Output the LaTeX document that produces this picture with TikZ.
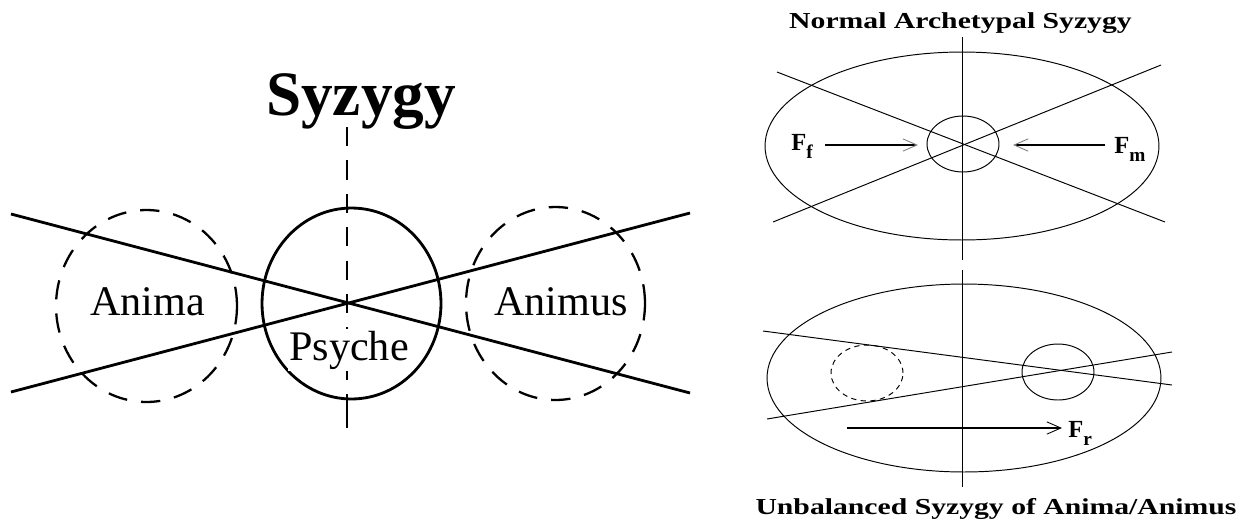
\documentclass[tikz,border=0pt]{standalone}
\usepackage{fontspec}
\usepackage{graphicx}
\setmainfont{Liberation Serif}
\usetikzlibrary{shapes.geometric,arrows.meta}
\newcommand{\forcelabel}[1]{\fontsize{14}{15}\selectfont\bfseries F\raisebox{-0.35em}{\fontsize{11}{12}\selectfont\bfseries #1}}
\begin{document}
\begin{tikzpicture}[x=0.02cm,y=-0.02cm,
  heavy/.style={line width=1.6pt},
  dashring/.style={line width=1.3pt},
  light/.style={line width=0.55pt},
  ring/.style={draw, ellipse, inner sep=0pt, outer sep=0pt},
  bigdash/.style={dash pattern=on 11pt off 8pt},
  smalldash/.style={dash pattern=on 3pt off 2.5pt},
  force/.style={line width=1.3pt, -{Straight Barb[length=8pt,width=7pt,line width=0.5pt,color=#1]}},
  force/.default=black,
  bigtext/.style={font=\fontsize{24}{26}\selectfont, anchor=base, inner sep=0pt},
  title/.style={anchor=base, inner sep=0pt, font=\fontsize{13}{15}\selectfont\bfseries}]
\fill[white] (0,0) rectangle (1241,525);
\useasboundingbox (0,0) rectangle (1241,525);

% ---------------- left diagram ----------------
\node[anchor=base, inner sep=0pt, font=\fontsize{36}{40}\selectfont\bfseries] (syz) at (361,115) {Syzygy};
\coordinate (vtop) at (347,127);
\coordinate (vmid) at (347,396);
\coordinate (vbot) at (347,428);
\node[ring, heavy, minimum width=3.58cm, minimum height=3.82cm] (psyche) at (351.5,303.5) {};
\node[ring, dashring, bigdash, minimum width=3.62cm, minimum height=3.84cm] (anima) at (146.5,306) {};
\node[ring, dashring, bigdash, minimum width=3.58cm, minimum height=3.86cm] (animus) at (555.5,303.5) {};
\coordinate (l1a) at (11,214);
\coordinate (l1b) at (690,393);
\coordinate (l2a) at (11,392);
\coordinate (l2b) at (690,213);
\draw[heavy, bigdash] (vtop) -- (vmid);
\draw[heavy] (vmid) -- (vbot);
\draw[heavy] (l1a) -- (l1b);
\draw[heavy] (l2a) -- (l2b);
\node[bigtext] (tanima) at (147.5,315) {Anima};
\node[bigtext] (tanimus) at (561,315) {Animus};
\node[bigtext, fill=white, inner sep=1pt] (tpsyche) at (349,360) {Psyche};

% ---------------- right top ----------------
\node[title] (t1) at (960.5,28) {\scalebox{1.3}[1]{Normal Archetypal Syzygy}};
\coordinate (rvt) at (962,37);
\coordinate (rvm) at (962,260);
\node[ring, light, minimum width=7.88cm, minimum height=3.76cm] (e1) at (962,146) {};
\node[ring, light, minimum width=1.44cm, minimum height=1.12cm] (c1) at (963,144) {};
\coordinate (a1) at (777,72);
\coordinate (b1) at (1165,222);
\coordinate (a2) at (773,222);
\coordinate (b2) at (1161,65);
\draw[light] (rvt) -- (rvm);
\draw[light] (a1) -- (b1);
\draw[light] (a2) -- (b2);
\node[anchor=base west, inner sep=0pt] (ff) at (791,150) {\forcelabel{f}};
\node[anchor=base west, inner sep=0pt] (fm) at (1114,153) {\forcelabel{m}};
\coordinate (ffs) at (825,145);
\coordinate (ffe) at (918,145);
\coordinate (fms) at (1105,145);
\coordinate (fme) at (1013,145);
\draw[force=gray] (ffs) -- (ffe);
\draw[force=gray] (fms) -- (fme);

% ---------------- right bottom ----------------
\coordinate (rvb1) at (962,270);
\coordinate (rvb2) at (962,487);
\node[ring, light, minimum width=7.88cm, minimum height=3.76cm] (e2) at (964,378) {};
\node[ring, light, minimum width=1.44cm, minimum height=1.12cm] (c2) at (1058,372) {};
\node[ring, light, smalldash, minimum width=1.44cm, minimum height=1.12cm] (c3) at (867,373) {};
\coordinate (a3) at (763,331);
\coordinate (b3) at (1172,385);
\coordinate (a4) at (767,419);
\coordinate (b4) at (1172,352);
\draw[light] (rvb1) -- (rvb2);
\draw[light] (a3) -- (b3);
\draw[light] (a4) -- (b4);
\coordinate (frs) at (847,428);
\coordinate (fre) at (1062,428);
\draw[force] (frs) -- (fre);
\node[anchor=base west, inner sep=0pt] (fr) at (1068,437) {\forcelabel{r}};
\node[title] (t2) at (996,514) {\scalebox{1.3}[1]{Unbalanced Syzygy of Anima/Animus}};
\end{tikzpicture}
\end{document}
